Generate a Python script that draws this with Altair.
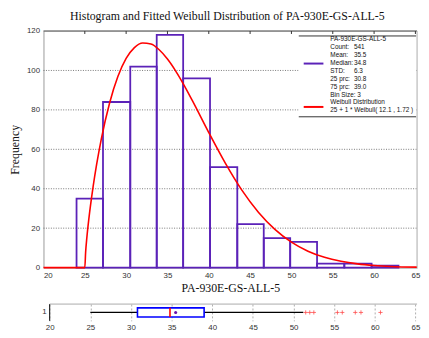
import altair as alt
import pandas as pd

# ---------------- data ----------------
bin_edges = [24.0, 27.2, 30.5, 33.7, 36.9, 40.15, 43.45, 46.65, 49.85, 53.1, 56.4, 59.7, 62.95]
bin_counts = [35, 84, 102, 118, 96, 51, 22, 15, 13, 2, 2, 1]

curve_x = [20, 25, 25.1, 25.25, 25.5, 26, 27, 28, 29, 30, 31, 32, 33, 34, 35, 36, 37, 38,
           40, 42, 44, 46, 48, 50, 52, 54, 56, 58, 60, 62, 65.2]
curve_y = [0, 0, 7.9, 15.3, 25.1, 40.9, 65.3, 83.5, 96.9, 106.1, 111.6, 113.9, 113.4, 110.5,
           105.8, 99.7, 92.6, 84.8, 68.5, 53.0, 39.3, 28.1, 19.4, 12.9, 8.3, 5.2, 3.2, 1.9,
           1.1, 0.6, 0.25]

x_ticks = [20, 25, 30, 35, 40, 45, 50, 55, 60, 65]
top_ticks = [25, 30, 35, 40, 45, 50, 55, 60, 65]
y_ticks = [0, 20, 40, 60, 80, 100, 120]
grid_y = [20, 40, 60, 80, 100]

box_q1, box_median, box_q3, box_mean = 30.8, 34.8, 39.0, 35.5
whisker_lo, whisker_hi = 25.0, 51.2
outliers = [51.5, 52.0, 52.5, 55.4, 56.0, 57.6, 58.3, 60.7]

legend_labels = ["PA-930E-GS-ALL-5", "Count:", "Mean:", "Median:", "STD:", "25 prc:",
                 "75 prc:", "Bin Size:  3", "Weibull Distribution",
                 "25 + 1 * Weibull( 12.1 , 1.72 )"]
legend_values = ["", "541", "35.5", "34.8", "6.3", "30.8", "39.0", "", "", ""]

title_text = "Histogram and Fitted Weibull Distribution of PA-930E-GS-ALL-5"
x_title = "PA-930E-GS-ALL-5"

# ---------------- styling ----------------
PURPLE = "#5b22b8"
RED = "#ff0000"
W, H = 379, 240
X_MAX = 65.2
SANS = "Liberation Sans"
SERIF = "Liberation Serif"

xs = alt.Scale(domain=[20, X_MAX], nice=False, zero=False)
ys = alt.Scale(domain=[0, 120], nice=False)

y_axis = alt.Axis(values=y_ticks, title="Frequency", ticks=False, labelPadding=4,
                  titlePadding=5, domain=True, domainColor="#999", grid=False,
                  minExtent=0, labelOverlap=False)
x_axis = alt.Axis(values=x_ticks, title=x_title, ticks=False, labelPadding=4,
                  titlePadding=3, domain=True, domainColor="#999", grid=False,
                  labelOverlap=False)

hist_df = pd.DataFrame({"x0": bin_edges[:-1], "x1": bin_edges[1:], "c": bin_counts})
curve_df = pd.DataFrame({"x": curve_x, "y": curve_y})
grid_df = pd.DataFrame({"y": grid_y})
tick_df = pd.DataFrame({"x": top_ticks})
one_df = pd.DataFrame({"k": [0]})

grid = alt.Chart(grid_df).mark_rule(color="#555", strokeDash=[1, 1.5], strokeWidth=0.8).encode(
    y=alt.Y("y:Q", scale=ys, axis=y_axis),
    x=alt.datum(20, scale=xs, axis=x_axis), x2=alt.datum(X_MAX),
)

bars = alt.Chart(hist_df).mark_rect(fillOpacity=0, stroke=PURPLE, strokeWidth=1.8).encode(
    x=alt.X("x0:Q", scale=xs, axis=x_axis),
    x2="x1:Q",
    y=alt.Y("c:Q", scale=ys, axis=y_axis),
    y2=alt.datum(0),
)

curve = alt.Chart(curve_df).mark_line(color=RED, strokeWidth=1.6, interpolate="monotone").encode(
    x=alt.X("x:Q", scale=xs, axis=x_axis), y=alt.Y("y:Q", scale=ys, axis=y_axis)
)

top_border = alt.Chart(one_df).mark_rule(color="#333", strokeWidth=1).encode(
    x=alt.datum(20, scale=xs, axis=x_axis), x2=alt.datum(X_MAX),
    y=alt.datum(120, scale=ys, axis=y_axis)
)
right_border = alt.Chart(one_df).mark_rule(color="#aaa", strokeWidth=1).encode(
    x=alt.datum(X_MAX, scale=xs, axis=x_axis),
    y=alt.datum(0, scale=ys, axis=y_axis), y2=alt.datum(120)
)
top_tick_marks = alt.Chart(tick_df).mark_rule(color="#333", strokeWidth=1).encode(
    x=alt.X("x:Q", scale=xs, axis=x_axis), y=alt.value(0), y2=alt.value(3)
)

# legend box
leg_box = alt.Chart(one_df).mark_rect(fill="white").encode(
    x=alt.value(259), x2=alt.value(378), y=alt.value(5), y2=alt.value(87)
)
leg_top = alt.Chart(one_df).mark_rule(color="#333", strokeWidth=1).encode(
    x=alt.value(259), x2=alt.value(378), y=alt.value(5)
)
leg_bot = alt.Chart(one_df).mark_rule(color="#333", strokeWidth=1).encode(
    x=alt.value(259), x2=alt.value(378), y=alt.value(87)
)
leg_purple = alt.Chart(one_df).mark_rule(color=PURPLE, strokeWidth=2).encode(
    x=alt.value(264), x2=alt.value(284), y=alt.value(33)
)
leg_red = alt.Chart(one_df).mark_rule(color=RED, strokeWidth=2).encode(
    x=alt.value(264), x2=alt.value(284), y=alt.value(77)
)
leg_text = alt.Chart(one_df).mark_text(
    text="\n".join(legend_labels), lineBreak="\n", lineHeight=8, align="left",
    baseline="top", font=SANS, fontSize=6.5, color="#111"
).encode(x=alt.value(291), y=alt.value(5.5))
leg_vals = alt.Chart(one_df).mark_text(
    text="\n".join(legend_values), lineBreak="\n", lineHeight=8, align="left",
    baseline="top", font=SANS, fontSize=6.5, color="#111"
).encode(x=alt.value(315), y=alt.value(5.5))

main = alt.layer(
    grid, bars, curve, top_border, right_border, top_tick_marks,
    leg_box, leg_top, leg_bot, leg_purple, leg_red, leg_text, leg_vals
).properties(
    width=W, height=H,
    title=alt.TitleParams(title_text, font=SERIF, fontSize=12, fontWeight="normal",
                          color="#111", offset=4, dx=-3),
)

# ---------------- box plot panel ----------------
BH = 17
bxs = alt.Scale(domain=[19.236, X_MAX], nice=False, zero=False)
bys = alt.Scale(domain=[0, 2], nice=False)
bx_axis = alt.Axis(values=x_ticks, title=None, ticks=False, domain=False, grid=True,
                   gridDash=[2, 2], gridColor="#999", gridWidth=0.8, labelPadding=3,
                   labelOverlap=False)

wh_df = pd.DataFrame({"lo": [whisker_lo, box_q3], "hi": [box_q1, whisker_hi]})
box_df = pd.DataFrame({"q1": [box_q1], "q3": [box_q3], "med": [box_median], "mean": [box_mean]})
out_df = pd.DataFrame({"x": outliers})

whiskers = alt.Chart(wh_df).mark_rule(color="black", strokeWidth=1.2).encode(
    x=alt.X("lo:Q", scale=bxs, axis=bx_axis),
    x2="hi:Q",
    y=alt.datum(1, scale=bys, axis=None),
)
box = alt.Chart(box_df).mark_rect(fill="white", stroke="#0000ff", strokeWidth=1.6).encode(
    x=alt.X("q1:Q", scale=bxs, axis=bx_axis), x2="q3:Q",
    y=alt.datum(0.45, scale=bys, axis=None), y2=alt.datum(1.55)
)
med = alt.Chart(box_df).mark_rule(color=RED, strokeWidth=1.6).encode(
    x=alt.X("med:Q", scale=bxs, axis=bx_axis),
    y=alt.datum(0.45, scale=bys, axis=None), y2=alt.datum(1.55)
)
mean_pt = alt.Chart(box_df).mark_circle(color="#6a0dad", size=10, opacity=1).encode(
    x=alt.X("mean:Q", scale=bxs, axis=bx_axis), y=alt.datum(1, scale=bys, axis=None)
)
outs = alt.Chart(out_df).mark_point(shape="M-1,0L1,0M0,-1L0,1", filled=False, stroke=RED,
                                    strokeWidth=0.8, size=18).encode(
    x=alt.X("x:Q", scale=bxs, axis=bx_axis), y=alt.datum(1, scale=bys, axis=None)
)
left_line = alt.Chart(box_df).mark_rule(color="black", strokeWidth=1).encode(
    x=alt.datum(20, scale=bxs, axis=bx_axis),
    y=alt.datum(0, scale=bys, axis=None), y2=alt.datum(2)
)
top_line = alt.Chart(box_df).mark_rule(color="#aaa", strokeWidth=1).encode(
    x=alt.datum(20, scale=bxs, axis=bx_axis), x2=alt.datum(X_MAX),
    y=alt.datum(2, scale=bys, axis=None)
)
one_label = alt.Chart(box_df).mark_text(text="1", align="right", baseline="middle", dx=-3,
                                        font=SANS, fontSize=8, color="#333").encode(
    x=alt.datum(20, scale=bxs, axis=bx_axis), y=alt.datum(1, scale=bys, axis=None)
)

boxpanel = alt.layer(
    whiskers, box, med, mean_pt, outs, left_line, top_line, one_label
).properties(width=W, height=BH)

chart = alt.vconcat(main, boxpanel, spacing=10).properties(
    padding={"left": 0, "top": 0, "right": 0, "bottom": 0}, background="white"
).configure_view(stroke=None).configure_axis(
    labelFont=SANS, labelFontSize=8, labelColor="#333",
    titleFont=SERIF, titleFontSize=12, titleFontWeight="normal", titleColor="#111",
)

chart.save("out.html", embed_options={"renderer": "svg", "actions": False})
